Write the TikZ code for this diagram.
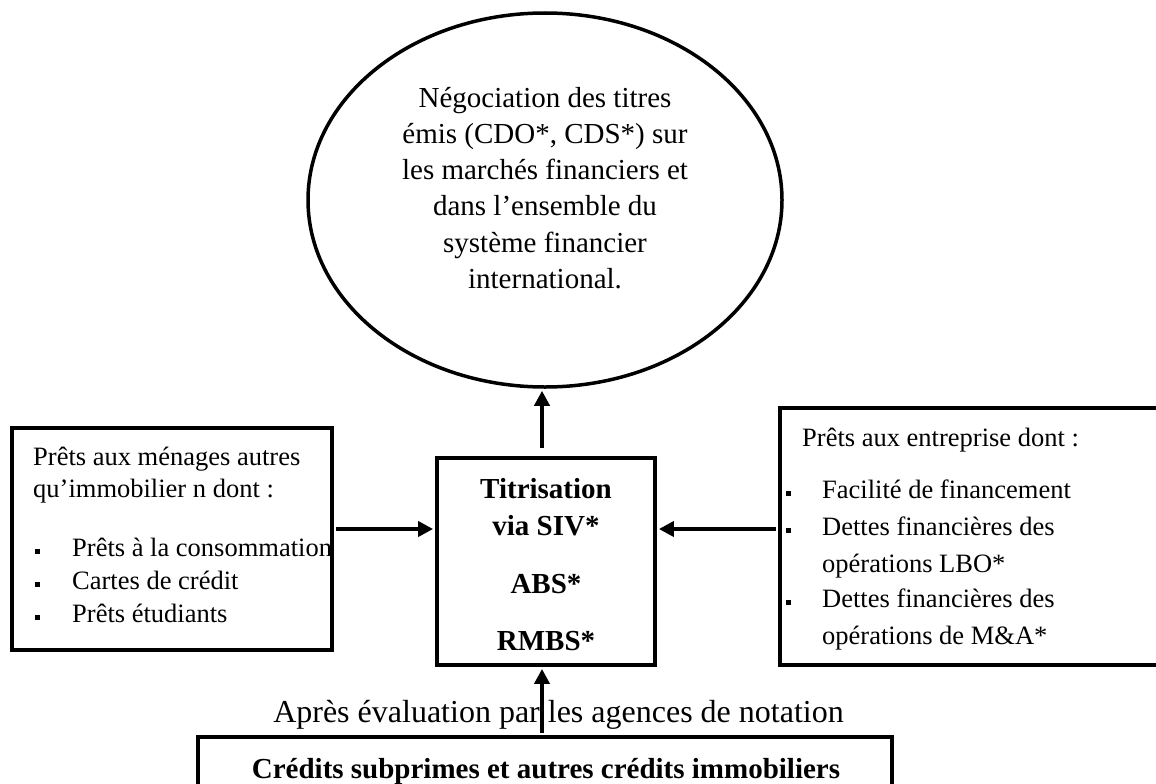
\documentclass[tikz,border=0pt]{standalone}
\usepackage{fontspec}
\setmainfont{Liberation Serif}
\usetikzlibrary{shapes.geometric,arrows.meta}
\begin{document}
\begin{tikzpicture}[x=1pt,y=-1pt,
  frame/.style={draw,line width=3.8pt,inner sep=0pt},
  bigtxt/.style={inner sep=0pt,font=\fontsize{29}{36.3}\selectfont},
  boldtxt/.style={inner sep=0pt,font=\fontsize{29}{37}\selectfont\bfseries},
  sidetxt/.style={inner sep=0pt,align=left,font=\fontsize{26.5}{32.5}\selectfont},
  righttxt/.style={inner sep=0pt,align=left,font=\fontsize{26.5}{36.5}\selectfont},
  arr/.style={line width=3.8pt,-{Triangle[length=15pt,width=15pt]},shorten <=2pt,shorten >=2pt},
  blt/.style={fill=black}]
\useasboundingbox (0,0) rectangle (1156,784);
\clip (0,0) rectangle (1156,784);

% ellipse
\node[ellipse,frame,line width=3.5pt,minimum width=474pt,minimum height=374pt] (ell) at (545,200) {};
\node[bigtxt,align=center,anchor=north] (elltxt) at (545,86.7)
  {Négociation des titres\\émis (CDO*, CDS*) sur\\les marchés financiers et\\dans l’ensemble du\\système financier\\international.};

% centre box
\node[frame,rectangle,minimum width=218pt,minimum height=207pt] (cbox) at (546,561.5) {};
\node[boldtxt,align=center,anchor=north] (ctxt) at (546,478)
  {Titrisation\\via SIV*\\[21pt]ABS*\\[20pt]RMBS*};

% left box
\node[frame,rectangle,minimum width=320pt,minimum height=222pt] (lbox) at (172,539) {};
\node[sidetxt,anchor=north west] (lhead) at (33,446.5) {Prêts aux ménages autres\\qu’immobilier n dont :};
\node[sidetxt,anchor=base west] (l1) at (72,556) {Prêts à la consommation};
\node[sidetxt,anchor=base west] (l2) at (72,589) {Cartes de crédit};
\node[sidetxt,anchor=base west] (l3) at (72,622) {Prêts étudiants};
\foreach \yy in {556,589,622}{\fill[blt] (34.5,\yy-7.5) rectangle (39.5,\yy-2.5);}

% right box
\node[frame,rectangle,minimum width=382pt,minimum height=257pt] (rbox) at (971,536.5) {};
\node[righttxt,anchor=base west] (rhead) at (802,446) {Prêts aux entreprise dont :};
\node[righttxt,anchor=base west] (r1) at (822,498) {Facilité de financement};
\node[righttxt,anchor=north west] (r2) at (822,516.7) {Dettes financières des\\opérations LBO*};
\node[righttxt,anchor=north west] (r3) at (822,588.7) {Dettes financières des\\opérations de M\&A*};
\foreach \yy in {498,535,607}{\fill[blt] (785.5,\yy-7.5) rectangle (790.5,\yy-2.5);}

% bottom box
\node[frame,rectangle,minimum width=694pt,minimum height=66pt] (bbox) at (545,770) {};
\node[boldtxt,anchor=base] (btxt) at (546,778) {Crédits subprimes et autres crédits immobiliers};
\node[inner sep=0pt,font=\fontsize{32}{38}\selectfont,anchor=base] (lab) at (558.5,722)
  {Après évaluation par les agences de notation};

% connectors
\coordinate (ly) at (0,529);
\coordinate (ax) at (542,0);
\draw[arr,shorten <=8pt] (cbox.north -| ax) -- (ell.south -| ax);
\draw[arr] (lbox.east |- ly) -- (cbox.west |- ly);
\draw[arr] (rbox.west |- ly) -- (cbox.east |- ly);
\draw[arr] (bbox.north -| ax) -- (cbox.south -| ax);
\end{tikzpicture}
\end{document}
